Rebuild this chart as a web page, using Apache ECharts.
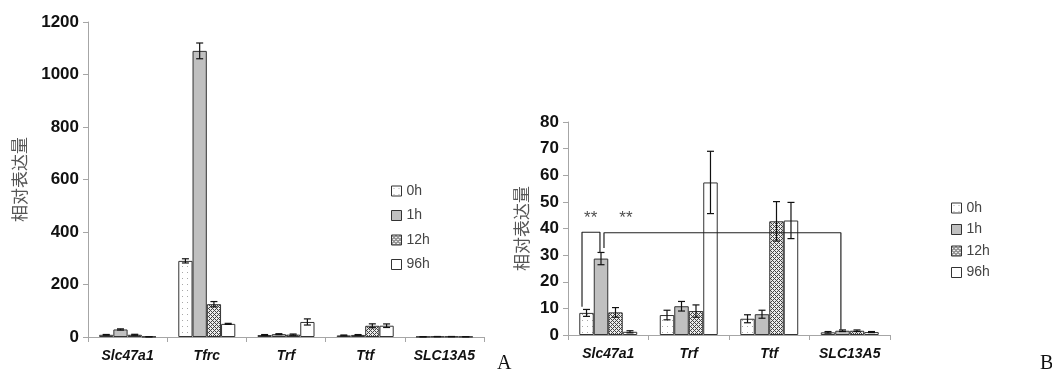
<!DOCTYPE html>
<html><head><meta charset="utf-8">
<script src="https://cdn.jsdelivr.net/npm/echarts@6/dist/echarts.min.js"></script>
<style>html,body{margin:0;padding:0;background:#fff}#c{width:1052px;height:371px}</style>
</head><body><div id="c"></div>
<script>
// ---- data ----
const seriesNames = ['0h', '1h', '12h', '96h'];
const catsA = ['Slc47a1', 'Tfrc', 'Trf', 'Ttf', 'SLC13A5'];
const catsB = ['Slc47a1', 'Trf', 'Ttf', 'SLC13A5'];
// values per series (0h,1h,12h,96h) for chart A
const valA0h = [8.3, 290, 7.5, 6.1, 1.0];
const valA1h = [28.7, 1090, 10.8, 7.8, 1.6];
const valA12h = [8.5, 125, 9.0, 42.7, 1.6];
const valA96h = [1.2, 50, 57.3, 43.0, 1.1];
const errA0h = [1.3, 8, 1.8, 1.5, 0.3];
const errA1h = [2.3, 30, 1.8, 1.5, 0.3];
const errA12h = [1.8, 10, 2.3, 7.4, 0.3];
const errA96h = [0.4, 2, 11.7, 6.8, 0.2];
// chart B
const valB0h = [8.3, 7.5, 6.1, 1.0];
const valB1h = [28.7, 10.8, 7.8, 1.6];
const valB12h = [8.5, 9.0, 42.7, 1.6];
const valB96h = [1.2, 57.3, 43.0, 1.1];
const errB0h = [1.3, 1.8, 1.5, 0.3];
const errB1h = [2.3, 1.8, 1.5, 0.3];
const errB12h = [1.8, 2.3, 7.4, 0.3];
const errB96h = [0.4, 11.7, 6.8, 0.2];
const ticksA = [0, 200, 400, 600, 800, 1000, 1200];
const ticksB = [0, 10, 20, 30, 40, 50, 60, 70, 80];
// significance brackets in chart B (x in category units, y in data units)
const bracket1 = [[0.174, 10.6], [0.174, 38.6], [0.397, 38.6], [0.397, 30.8]];
const bracket2 = [[0.447, 32.7], [0.447, 38.4], [3.39, 38.4], [3.39, 2.0]];
const stars = [[0.282, 43.9, '**'], [0.72, 43.9, '**']];

// ---- patterns ----
function pat(w, h, bg, draw) {
  const c = document.createElement('canvas'); c.width = w; c.height = h;
  const g = c.getContext('2d'); g.fillStyle = bg; g.fillRect(0, 0, w, h); draw(g); return c;
}
const dotPat = pat(5, 6, '#ffffff', g => { g.fillStyle = '#a8a8a8'; g.fillRect(2, 2, 1, 1); });
const checkPat = pat(4, 4, '#ececec', g => {
  g.fillStyle = '#444';
  for (let x = 0; x < 4; x++) for (let y = 0; y < 4; y++) {
    if (((x + y) % 4 === 0) || (((x - y) % 4 + 4) % 4 === 0)) g.fillRect(x, y, 1, 1);
  }
});
const colors = [
  { image: dotPat, repeat: 'repeat' },
  '#c0c0c0',
  { image: checkPat, repeat: 'repeat' },
  '#ffffff'
];

const valsA = [valA0h, valA1h, valA12h, valA96h];
const errsA = [errA0h, errA1h, errA12h, errA96h];
const valsB = [valB0h, valB1h, valB12h, valB96h];
const errsB = [errB0h, errB1h, errB12h, errB96h];

const GAP = 0.28;
function errRender(params, api) {
  const ci = api.value(0), si = api.value(1), v = api.value(2), e = api.value(3);
  const band = api.size([1, 0])[0];
  const bw = band * (1 - GAP) / 4;
  const cx = api.coord([ci, 0])[0] - 2 * bw + (si + 0.5) * bw;
  const top = api.coord([ci, v + e])[1], bot = api.coord([ci, Math.max(0, v - e)])[1];
  const cap = 3.5;
  const st = { stroke: '#111', lineWidth: 1.2 };
  return { type: 'group', children: [
    { type: 'line', shape: { x1: cx, y1: top, x2: cx, y2: bot }, style: st },
    { type: 'line', shape: { x1: cx - cap, y1: top, x2: cx + cap, y2: top }, style: st },
    { type: 'line', shape: { x1: cx - cap, y1: bot, x2: cx + cap, y2: bot }, style: st }
  ] };
}
function errData(vals, errs) {
  const d = [];
  vals.forEach((arr, si) => arr.forEach((v, ci) => d.push([ci, si, v, errs[si][ci]])));
  return d;
}

const axisGray = '#a6a6a6';
const tickLabel = { fontFamily: 'Liberation Sans', fontWeight: 'bold', fontSize: 17, color: '#111', margin: 9, formatter: v => String(v) };
const catLabel = { fontFamily: 'Liberation Sans', fontWeight: 'bold', fontStyle: 'italic', fontSize: 14, color: '#111', margin: 12, interval: 0 };
const nameStyle = { fontFamily: 'Noto Sans CJK SC', fontSize: 17, color: '#555' };

const series = [];
valsA.forEach((arr, i) => series.push({
  type: 'bar', name: seriesNames[i], xAxisIndex: 0, yAxisIndex: 0, data: arr,
  barGap: '0%', barCategoryGap: '28%',
  itemStyle: { color: colors[i], borderColor: '#333', borderWidth: 1 }, animation: false
}));
valsB.forEach((arr, i) => series.push({
  type: 'bar', name: seriesNames[i], xAxisIndex: 1, yAxisIndex: 1, data: arr,
  barGap: '0%', barCategoryGap: '28%',
  itemStyle: { color: colors[i], borderColor: '#333', borderWidth: 1 }, animation: false
}));
series.push({ type: 'custom', xAxisIndex: 0, yAxisIndex: 0, renderItem: errRender, data: errData(valsA, errsA), z: 5, animation: false });
series.push({ type: 'custom', xAxisIndex: 1, yAxisIndex: 1, renderItem: errRender, data: errData(valsB, errsB), z: 5, animation: false });
[bracket1, bracket2].forEach(b => series.push({
  type: 'line', xAxisIndex: 2, yAxisIndex: 1, data: b, symbol: 'none', z: 6,
  lineStyle: { color: '#222', width: 1.2 }, animation: false, silent: true
}));
series.push({
  type: 'scatter', xAxisIndex: 2, yAxisIndex: 1, data: stars, symbolSize: 0, z: 6, silent: true,
  label: { show: true, position: 'inside', formatter: p => p.data[2], fontFamily: 'Liberation Sans', fontSize: 17, color: '#222' },
  animation: false
});

const legendBase = {
  data: seriesNames, orient: 'vertical', icon: 'rect', itemWidth: 10, itemHeight: 10,
  textStyle: { fontFamily: 'Liberation Sans', fontSize: 14, color: '#444', lineHeight: 14 },
  selectedMode: false, itemStyle: { borderColor: '#333', borderWidth: 1 }
};

const option = {
  backgroundColor: '#fff',
  animation: false,
  grid: [
    { left: 88, top: 22, width: 396, height: 315 },
    { left: 568, top: 122, width: 322, height: 213 }
  ],
  legend: [
    Object.assign({}, legendBase, { left: 386, top: 179, itemGap: 10.5 }),
    Object.assign({}, legendBase, { left: 946, top: 196, itemGap: 7.5 })
  ],
  xAxis: [
    { type: 'category', gridIndex: 0, data: catsA, axisLine: { lineStyle: { color: axisGray } },
      axisTick: { show: true, interval: 0, length: 5, lineStyle: { color: axisGray } }, axisLabel: catLabel },
    { type: 'category', gridIndex: 1, data: catsB, axisLine: { lineStyle: { color: axisGray } },
      axisTick: { show: true, interval: 0, length: 5, lineStyle: { color: axisGray } }, axisLabel: catLabel },
    { type: 'value', gridIndex: 1, min: 0, max: 4, show: false }
  ],
  yAxis: [
    { type: 'value', gridIndex: 0, min: ticksA[0], max: ticksA[ticksA.length - 1], interval: ticksA[1] - ticksA[0],
      name: '相对表达量', nameLocation: 'middle', nameGap: 60, nameTextStyle: nameStyle,
      axisLine: { show: true, lineStyle: { color: axisGray } }, axisTick: { show: true, length: 5, lineStyle: { color: axisGray } },
      splitLine: { show: false }, axisLabel: tickLabel },
    { type: 'value', gridIndex: 1, min: ticksB[0], max: ticksB[ticksB.length - 1], interval: ticksB[1] - ticksB[0],
      name: '相对表达量', nameLocation: 'middle', nameGap: 38, nameTextStyle: nameStyle,
      axisLine: { show: true, lineStyle: { color: axisGray } }, axisTick: { show: true, length: 5, lineStyle: { color: axisGray } },
      splitLine: { show: false }, axisLabel: tickLabel }
  ],
  graphic: [
    { type: 'text', left: 497, top: 354, style: { text: 'A', font: '20px "Liberation Serif"', fill: '#111' } },
    { type: 'text', left: 1040, top: 354, style: { text: 'B', font: '20px "Liberation Serif"', fill: '#111' } }
  ],
  series: series
};
const chart = echarts.init(document.getElementById('c'), null, { renderer: 'canvas' });
chart.setOption(option);
</script></body></html>
